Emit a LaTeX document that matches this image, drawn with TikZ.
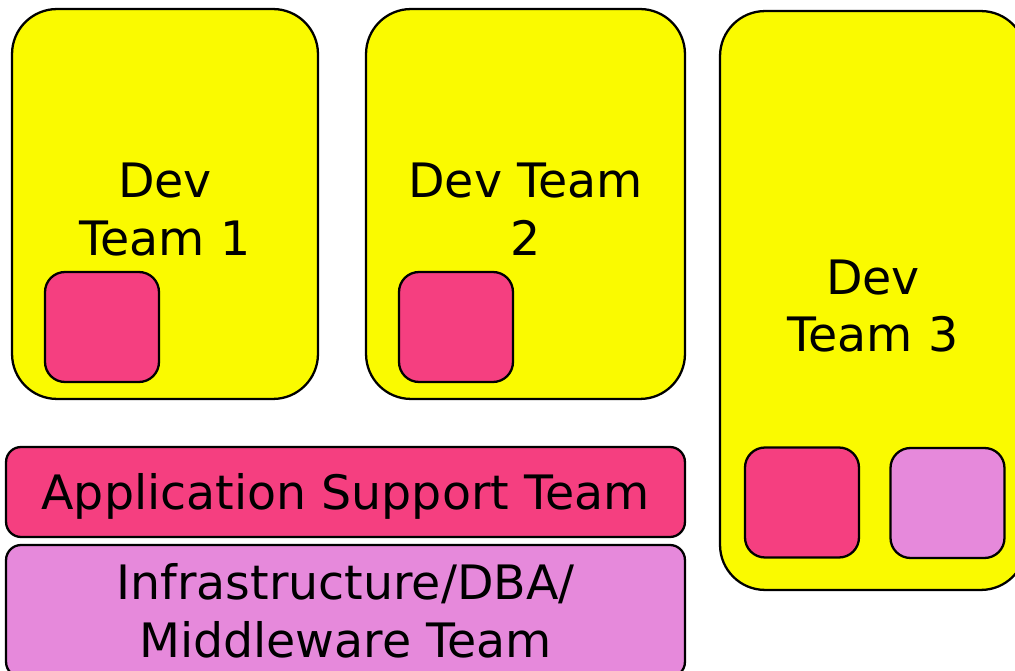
\documentclass[tikz,border=0pt]{standalone}
\usepackage{fontspec}
\setmainfont{DejaVu Sans}
\usepackage{tikz}
\usetikzlibrary{positioning}
\definecolor{teamyellow}{HTML}{FAFA00}
\definecolor{suppink}{HTML}{F53F80}
\definecolor{infralilac}{HTML}{E689DB}
\newcommand{\tstrut}{\rule{0pt}{26pt}}
\tikzset{team/.style = {shape=rectangle,draw,line width=1.3pt,fill=teamyellow,rounded corners=0.9cm,align=center,font=\fontsize{27}{33}\selectfont}}
\tikzset{member/.style = {shape=rectangle,draw,line width=1.3pt,rounded corners=0.4cm,minimum width=2.28cm,minimum height=2.2cm}}
\tikzset{layer/.style = {shape=rectangle,draw,line width=1.3pt,rounded corners=0.3cm,minimum width=13.58cm,align=center,font=\fontsize{27}{33}\selectfont}}

\begin{document}
\begin{tikzpicture}[x=0.02cm,y=-0.02cm]
                    \useasboundingbox (0,0) rectangle (1015,671);
                    \clip (0,0) rectangle (1015,671);
                    \node[team, minimum width=6.12cm, minimum height=7.8cm] (t1) at (165,204) {\tstrut Dev\\Team 1};
                    \node[team, minimum width=6.38cm, minimum height=7.8cm] (t2) at (525.5,204) {\tstrut Dev Team\\2};
                    \node[team, minimum width=6.12cm, minimum height=11.58cm] (t3) at (873,300.5) {\tstrut Dev\\Team 3};

                    \node[member, fill=suppink] (s1) at (102,327) {};
                    \node[member, fill=suppink] (s2) at (456,327) {};
                    \node[member, fill=suppink] (s3) at (802,502.5) {};
                    \node[member, fill=infralilac] (i3) at (947.5,503) {};

                    \node[layer, fill=suppink, minimum height=1.8cm] (app) at (345.5,492) {\tstrut Application Support Team};
                    \node[layer, fill=infralilac, minimum height=2.64cm] (infra) at (345.5,611) {Infrastructure/DBA/\\Middleware Team};
                \end{tikzpicture}
\end{document}
